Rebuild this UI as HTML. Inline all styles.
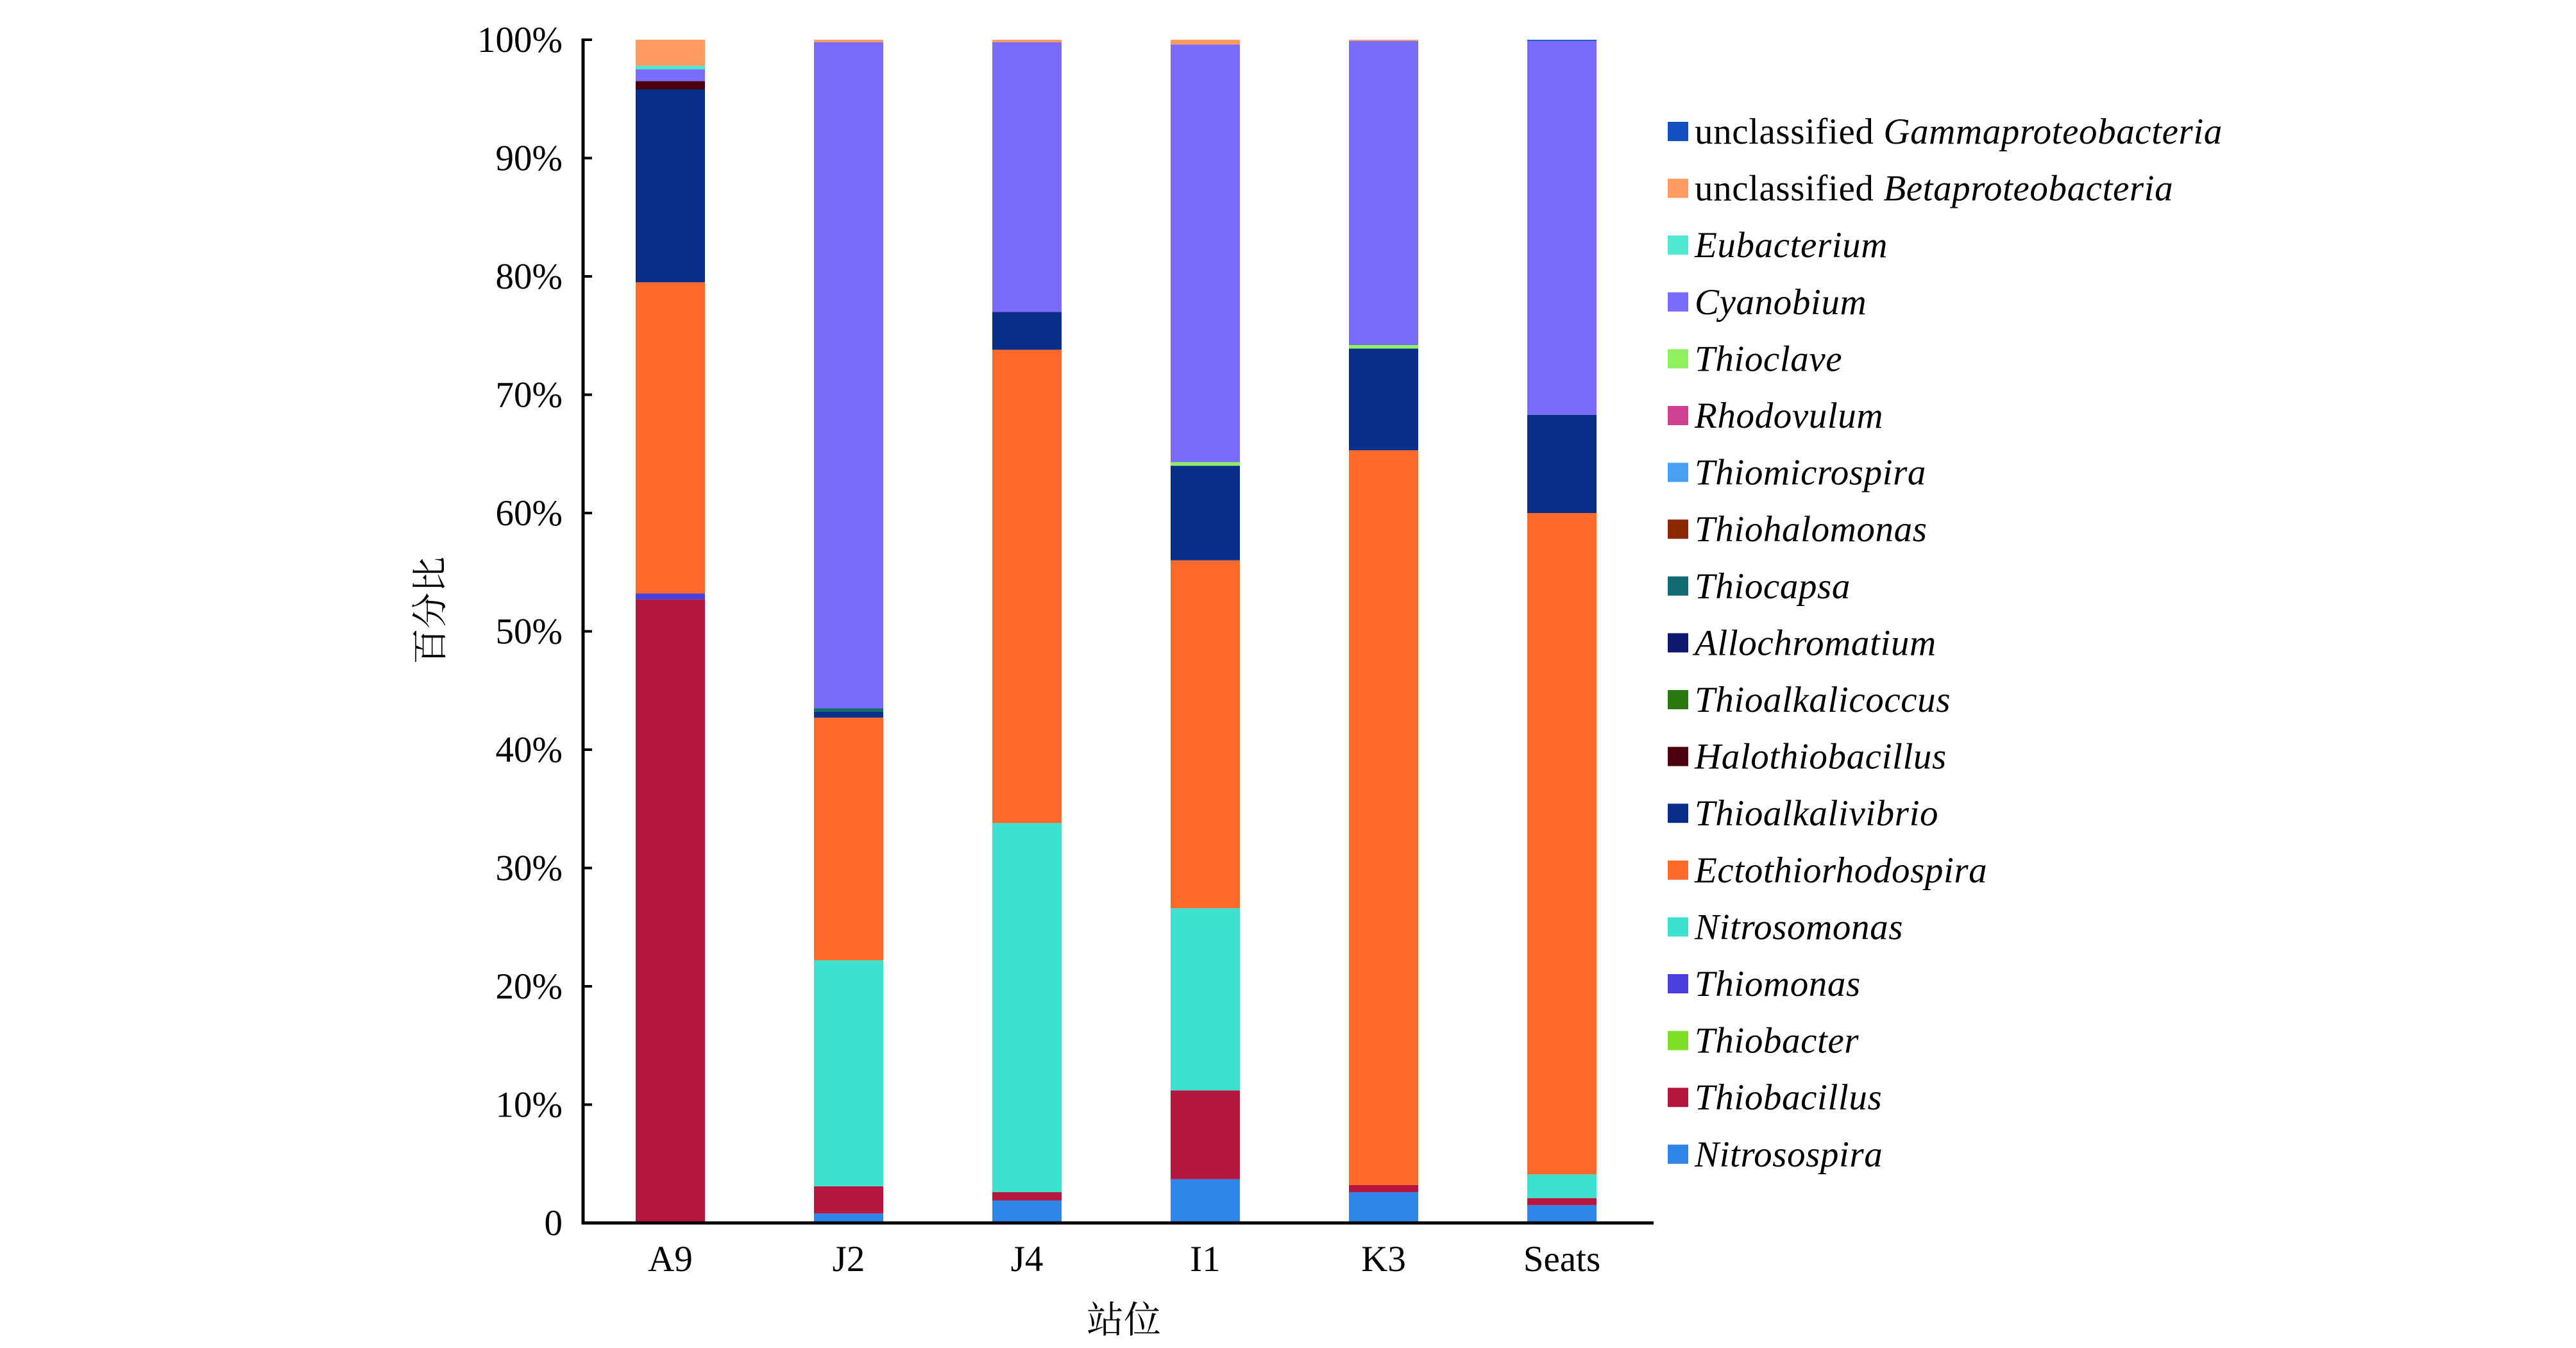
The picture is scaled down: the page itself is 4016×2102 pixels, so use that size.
<!DOCTYPE html>
<html><head><meta charset="utf-8"><style>
html,body{margin:0;padding:0;background:#fff;}
svg{display:block;}
</style></head><body>
<svg id="chart" width="4016" height="2102" viewBox="0 0 4016 2102" xmlns="http://www.w3.org/2000/svg">
<g id="bars"></g>
<g id="axes"></g>
<g id="legend"></g>
<text transform="translate(690,952) rotate(-90)" text-anchor="middle" font-family="'Liberation Serif','Noto Serif CJK SC',serif" font-size="56" fill="#000">百分比</text>
<text x="1752" y="2078" text-anchor="middle" font-family="'Liberation Serif','Noto Serif CJK SC',serif" font-size="58" fill="#000">站位</text>
</svg>
<script>
const categories = ["A9","J2","J4","I1","K3","Seats"];
const seriesNames = ["Nitrosospira","Thiobacillus","Thiobacter","Thiomonas","Nitrosomonas","Ectothiorhodospira","Thioalkalivibrio","Halothiobacillus","Thioalkalicoccus","Allochromatium","Thiocapsa","Thiohalomonas","Thiomicrospira","Rhodovulum","Thioclave","Cyanobium","Eubacterium","unclassified Betaproteobacteria","unclassified Gammaproteobacteria"];
const seriesColors = ["#2f86e8","#b5173f","#7fe02a","#4a3fe0","#3ee0d0","#ff6a2a","#0a2f8a","#4a0010","#2a7a10","#101870","#106a70","#8a2a00","#4aa0f0","#d04090","#90f060","#7a6cf8","#50e8d0","#ff9a60","#1050c0"];
const Nitrosospira      = [0,   0.8, 1.9, 3.7, 2.6, 1.5];
const Thiobacillus      = [52.7,2.3, 0.7, 7.5, 0.6, 0.6];
const Thiobacter        = [0,   0,   0,   0,   0,   0];
const Thiomonas         = [0.5, 0,   0,   0,   0,   0];
const Nitrosomonas      = [0,   19.1,31.2,15.4,0,   2.0];
const Ectothiorhodospira= [26.3,20.5,40.0,29.4,62.1,55.9];
const Thioalkalivibrio  = [16.3,0.5, 3.2, 8.0, 8.6, 8.3];
const Halothiobacillus  = [0.7, 0,   0,   0,   0,   0];
const Thioalkalicoccus  = [0,   0,   0,   0,   0,   0];
const Allochromatium    = [0,   0,   0,   0,   0,   0];
const Thiocapsa         = [0,   0.3, 0,   0,   0,   0];
const Thiohalomonas     = [0,   0,   0,   0,   0,   0];
const Thiomicrospira    = [0,   0,   0,   0,   0,   0];
const Rhodovulum        = [0,   0,   0,   0,   0,   0];
const Thioclave         = [0,   0,   0,   0.3, 0.3, 0];
const Cyanobium         = [1.0, 56.3,22.8,35.3,25.7,31.6];
const Eubacterium       = [0.3, 0,   0,   0,   0,   0];
const unclassifiedBeta  = [2.2, 0.2, 0.2, 0.4, 0.1, 0];
const unclassifiedGamma = [0,   0,   0,   0,   0,   0.1];
const seriesValues = [Nitrosospira,Thiobacillus,Thiobacter,Thiomonas,Nitrosomonas,Ectothiorhodospira,Thioalkalivibrio,Halothiobacillus,Thioalkalicoccus,Allochromatium,Thiocapsa,Thiohalomonas,Thiomicrospira,Rhodovulum,Thioclave,Cyanobium,Eubacterium,unclassifiedBeta,unclassifiedGamma];
const yTickValues = [0,10,20,30,40,50,60,70,80,90,100];
const yTickLabels = ["0","10%","20%","30%","40%","50%","60%","70%","80%","90%","100%"];

const NS="http://www.w3.org/2000/svg";
const X0=909, X1=2578, Y0=1907, Y100=62;
const firstCenter=1045, step=278, barW=108;
function yScale(v){return Y0-(Y0-Y100)*v/100;}
function xScale(i){return firstCenter+i*step;}
function mk(tag,attrs,parent){const e=document.createElementNS(NS,tag);for(const k in attrs)e.setAttribute(k,attrs[k]);parent.appendChild(e);return e;}

const bars=document.getElementById('bars');
categories.forEach((c,i)=>{
  let cum=0;
  seriesValues.forEach((arr,s)=>{
    const v=arr[i]; if(!v) return;
    const yt=yScale(cum+v), yb=yScale(cum);
    const r=mk('rect',{x:xScale(i)-barW/2,y:yt,width:barW,height:yb-yt,fill:seriesColors[s]},bars);
    
    
    cum+=v;
  });
});

const axes=document.getElementById('axes');
const ya=mk('line',{x1:X0,y1:Y100-2,x2:X0,y2:Y0+2,stroke:'#000','stroke-width':5},axes);


const xa=mk('line',{x1:X0-2,y1:Y0,x2:X1,y2:Y0,stroke:'#000','stroke-width':5},axes);


yTickValues.forEach((v,k)=>{
  const y=yScale(v);
  const t=mk('line',{x1:X0,y1:y,x2:X0+14,y2:y,stroke:'#000','stroke-width':4},axes);
  
  
  const l=mk('text',{x:877,y:y+19,'text-anchor':'end','font-family':"'Liberation Serif',serif",'font-size':57,fill:'#000'},axes);
  l.textContent=yTickLabels[k];
  
  
});
categories.forEach((c,i)=>{
  const l=mk('text',{x:xScale(i),y:1982,'text-anchor':'middle','font-family':"'Liberation Serif',serif",'font-size':57,fill:'#000'},axes);
  l.textContent=c;
  
  
});

const legend=document.getElementById('legend');
const order=seriesNames.map((n,i)=>i).reverse();
order.forEach((s,row)=>{
  const cy=205+row*88.6;
  const g=mk('g',{},legend);
  
  
  mk('rect',{x:2600,y:cy-15,width:32,height:30,fill:seriesColors[s]},g);
  const t=mk('text',{x:2642,y:cy+19,'font-family':"'Liberation Serif',serif",'font-size':57,'letter-spacing':0.6,fill:'#000'},g);
  const name=seriesNames[s];
  if(name.startsWith('unclassified ')){
    const a=document.createElementNS(NS,'tspan');a.textContent='unclassified ';t.appendChild(a);
    const b=document.createElementNS(NS,'tspan');b.setAttribute('font-style','italic');b.textContent=name.slice(13);t.appendChild(b);
  } else {
    t.setAttribute('font-style','italic');
    t.textContent=name;
  }
});
</script>
</body></html>
